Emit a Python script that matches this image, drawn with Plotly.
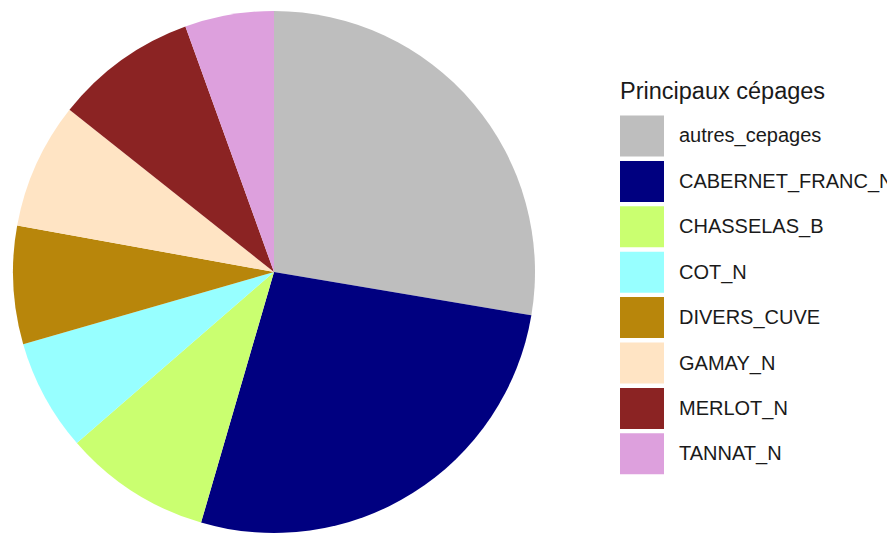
import plotly.graph_objects as go

# Parts des principaux cépages (en %)
cepages = ["autres_cepages", "CABERNET_FRANC_N", "CHASSELAS_B", "COT_N",
           "DIVERS_CUVE", "GAMAY_N", "MERLOT_N", "TANNAT_N"]
parts = [27.6, 26.8, 9.1, 6.9, 7.3, 7.8, 8.8, 5.5]
couleurs = ["#BEBEBE", "#000080", "#CAFF70", "#97FFFF",
            "#B8860B", "#FFE4C4", "#8B2323", "#DDA0DD"]

W, H = 895, 537
OFF = 8  # marge du body html

def px(x):
    return (x - OFF) / W

def py(y):
    return 1 - (y - OFF) / H

fig = go.Figure(go.Pie(
    labels=cepages,
    values=parts,
    sort=False,
    direction="clockwise",
    rotation=0,
    textinfo="none",
    marker=dict(colors=couleurs, line=dict(width=0)),
    domain=dict(x=[px(13), px(535)], y=[py(533), py(11)]),
    showlegend=False,
))

# legende dessinee a la main, style ggplot
fig.add_annotation(x=px(618), y=py(91), xref="paper", yref="paper",
                   text="Principaux cépages", showarrow=False,
                   xanchor="left", yanchor="middle",
                   font=dict(size=23.5, color="#1a1a1a"))

for i, (nom, col) in enumerate(zip(cepages, couleurs)):
    yc = 136 + i * 45.4
    fig.add_shape(type="rect", xref="paper", yref="paper",
                  x0=px(620), x1=px(664), y0=py(yc - 20.5), y1=py(yc + 20.5),
                  fillcolor=col, line=dict(width=0))
    fig.add_annotation(x=px(677), y=py(yc), xref="paper", yref="paper",
                       text=nom, showarrow=False,
                       xanchor="left", yanchor="middle",
                       font=dict(size=20, color="#1a1a1a"))

fig.update_layout(
    width=W, height=H,
    margin=dict(l=0, r=0, t=0, b=0),
    paper_bgcolor="white",
    plot_bgcolor="white",
    font=dict(family="Liberation Sans, Arial, sans-serif"),
)

fig.write_html("out.html")
